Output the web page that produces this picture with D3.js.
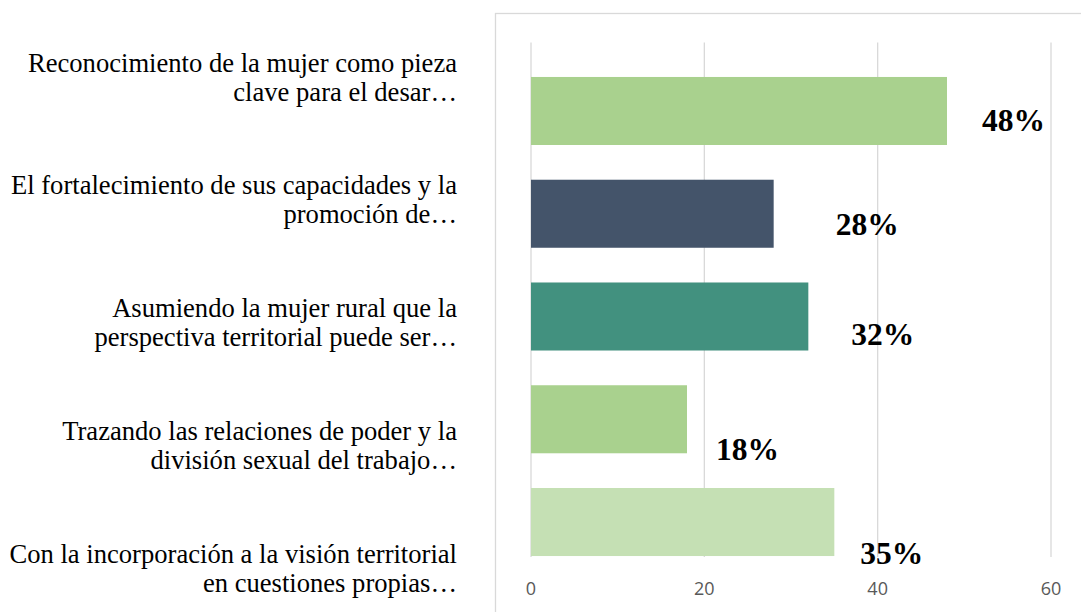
<!DOCTYPE html>
<html>
<head>
<meta charset="utf-8">
<script src="https://cdn.jsdelivr.net/npm/d3@7"></script>
<style>
  html, body { margin: 0; padding: 0; background: #fff; }
  svg { display: block; }
</style>
</head>
<body>
<div id="chart"></div>
<script>
  // categories, two lines each as in the source chart
  const categories = [
    ["Reconocimiento de la mujer como pieza", "clave para el desar…"],
    ["El fortalecimiento de sus capacidades y la", "promoción de…"],
    ["Asumiendo la mujer rural que la", "perspectiva territorial puede ser…"],
    ["Trazando las relaciones de poder y la", "división sexual del trabajo…"],
    ["Con la incorporación a la visión territorial", "en cuestiones propias…"]
  ];
  const values = [48, 28, 32, 18, 35];
  const valueLabels = ["48%", "28%", "32%", "18%", "35%"];
  const barColors = ["#a9d18e", "#44546a", "#42917f", "#a9d18e", "#c5e0b4"];
  const xTicks = [0, 20, 40, 60];

  // label nudges as placed in the source (px)
  const labelDx = [35, 62, 43, 29, 26];
  const labelDy = [20, 21, 28, 41, 42];

  const width = 1081, height = 612;

  const svg = d3.select("#chart").append("svg")
    .attr("width", width)
    .attr("height", height);

  // plot frame (only top and left edges are visible)
  svg.append("rect")
    .attr("x", 495.5).attr("y", 13.5)
    .attr("width", 700).attr("height", 700)
    .attr("fill", "none")
    .attr("stroke", "#d9d9d9")
    .attr("stroke-width", 1.3);

  const x = d3.scaleLinear().domain([0, 60]).range([531, 1051]);
  const y = d3.scaleBand()
    .domain(d3.range(values.length))
    .range([59.6, 573.4])
    .paddingInner(0.338)
    .paddingOuter(0.169);
  const yLabel = d3.scalePoint()
    .domain(d3.range(categories.length))
    .range([86, 577]);

  // gridlines
  svg.append("g")
    .selectAll("line")
    .data(xTicks)
    .join("line")
    .attr("x1", d => x(d)).attr("x2", d => x(d))
    .attr("y1", 42.5).attr("y2", 557)
    .attr("stroke", "#d9d9d9")
    .attr("stroke-width", 1.3);

  // tick labels
  svg.append("g")
    .selectAll("text")
    .data(xTicks)
    .join("text")
    .attr("x", d => x(d))
    .attr("y", 595)
    .attr("text-anchor", "middle")
    .attr("font-family", "'Open Sans', sans-serif")
    .attr("font-size", "18px")
    .attr("fill", "#595959")
    .text(d => d);

  // bars
  svg.append("g")
    .selectAll("rect")
    .data(values)
    .join("rect")
    .attr("x", x(0))
    .attr("y", (d, i) => y(i))
    .attr("width", d => x(d) - x(0))
    .attr("height", y.bandwidth())
    .attr("fill", (d, i) => barColors[i]);

  // value labels
  svg.append("g")
    .selectAll("text")
    .data(values)
    .join("text")
    .attr("x", (d, i) => x(d) + labelDx[i])
    .attr("y", (d, i) => y(i) + y.bandwidth() / 2 + labelDy[i])
    .attr("font-family", "'Liberation Serif', 'Times New Roman', serif")
    .attr("font-weight", "bold")
    .attr("font-size", "31.5px")
    .attr("fill", "#000")
    .text((d, i) => valueLabels[i]);

  // category labels
  const cat = svg.append("g")
    .selectAll("text")
    .data(categories)
    .join("text")
    .attr("text-anchor", "end")
    .attr("font-family", "'Liberation Serif', 'Times New Roman', serif")
    .attr("font-size", "26.6px")
    .attr("fill", "#000");

  cat.selectAll("tspan")
    .data((d, i) => d.map((line, j) => ({ line, i, j })))
    .join("tspan")
    .attr("x", 457)
    .attr("y", d => yLabel(d.i) - 14.5 + d.j * 29)
    .text(d => d.line);
</script>
</body>
</html>
